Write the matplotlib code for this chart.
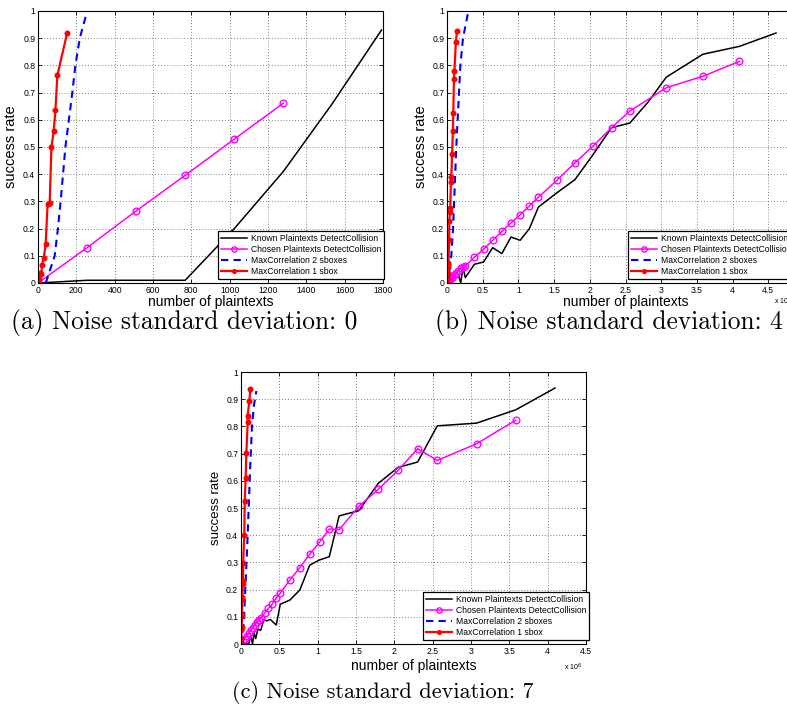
import matplotlib
matplotlib.use("Agg")
import matplotlib.pyplot as plt
import numpy as np

plt.rcParams['font.family'] = ['Liberation Sans', 'DejaVu Sans']

# ---------------- data ----------------
series_names = ["Known Plaintexts DetectCollision", "Chosen Plaintexts DetectCollision",
                "MaxCorrelation 2 sboxes", "MaxCorrelation 1 sbox"]
captions = ["(a) Noise standard deviation: 0", "(b) Noise standard deviation: 4",
            "(c) Noise standard deviation: 7"]

# (a) noise 0, x in plaintexts
a_known_x = [0, 128, 256, 512, 768, 1024, 1280, 1536, 1792]
a_known_y = [0, 0.005, 0.01, 0.01, 0.01, 0.2, 0.41, 0.66, 0.93]
a_chosen_x = [0, 256, 512, 768, 1024, 1280]
a_chosen_y = [0, 0.13, 0.265, 0.396, 0.529, 0.661]
a_mc2_x = [40, 50, 87, 104, 118, 143, 179, 195, 218, 249]
a_mc2_y = [0, 0.02, 0.1, 0.2, 0.3, 0.5, 0.7, 0.8, 0.9, 0.98]
a_mc1_x = [0, 3, 6, 9, 17, 21, 30, 40, 50, 61, 70, 82, 91, 101, 152]
a_mc1_y = [0, 0.005, 0.015, 0.038, 0.032, 0.067, 0.093, 0.143, 0.289, 0.295, 0.499, 0.559, 0.635, 0.763, 0.919]

# (b) noise 4, x in 1e6 plaintexts
b_known_x = [0, 0.032, 0.064, 0.096, 0.128, 0.16, 0.192, 0.224, 0.256, 0.384, 0.512, 0.64, 0.768,
             0.896, 1.024, 1.152, 1.28, 1.536, 1.792, 2.048, 2.304, 2.56, 2.816, 3.072, 3.584, 4.096, 4.608]
b_known_y = [0, 0.0, 0.01, 0.022, 0.04, 0.03, 0, 0.058, 0.02, 0.069, 0.077, 0.13, 0.108,
             0.169, 0.157, 0.199, 0.279, 0.331, 0.38, 0.473, 0.571, 0.588, 0.665, 0.757, 0.841, 0.87, 0.919]
b_chosen_x = [0, 0.016, 0.032, 0.048, 0.064, 0.096, 0.128, 0.16, 0.192, 0.224, 0.256, 0.384, 0.512,
              0.64, 0.768, 0.896, 1.024, 1.152, 1.28, 1.536, 1.792, 2.048, 2.304, 2.56, 3.072, 3.584, 4.096]
b_chosen_y = [0, 0.005, 0.01, 0.015, 0.02, 0.028, 0.035, 0.045, 0.055, 0.06, 0.062, 0.095, 0.124,
              0.157, 0.19, 0.221, 0.251, 0.283, 0.315, 0.377, 0.442, 0.504, 0.571, 0.632, 0.718, 0.76, 0.815]
b_mc2_x = [0.02, 0.06, 0.085, 0.13, 0.187, 0.224, 0.30]
b_mc2_y = [0, 0.1, 0.2, 0.5, 0.8, 0.9, 1.0]
b_mc1_x = [0, 0.005, 0.01, 0.015, 0.02, 0.03, 0.033, 0.04, 0.045, 0.055, 0.06, 0.072, 0.082, 0.088,
           0.097, 0.104, 0.124, 0.14]
b_mc1_y = [0, 0.015, 0.035, 0.06, 0.075, 0.157, 0.227, 0.26, 0.275, 0.37, 0.39, 0.474, 0.559, 0.625,
           0.749, 0.78, 0.886, 0.925]

# (c) noise 7, x in 1e6 plaintexts
c_known_x = [0, 0.064, 0.1, 0.128, 0.15, 0.17, 0.192, 0.22, 0.256, 0.3, 0.33, 0.384, 0.42, 0.46,
             0.512, 0.64, 0.768, 0.896, 1.024, 1.152, 1.28, 1.536, 1.792, 2.048, 2.304, 2.56,
             3.072, 3.584, 4.096]
c_known_y = [0, 0.0, 0.0, 0.03, 0.0, 0.04, 0.02, 0.055, 0.05, 0.09, 0.085, 0.09, 0.08, 0.07,
             0.146, 0.162, 0.199, 0.29, 0.309, 0.321, 0.471, 0.49, 0.591, 0.649, 0.669, 0.802,
             0.812, 0.861, 0.941]
c_chosen_x = [0, 0.026, 0.051, 0.077, 0.102, 0.128, 0.154, 0.179, 0.205, 0.23, 0.256, 0.307, 0.358,
              0.41, 0.461, 0.512, 0.64, 0.768, 0.896, 1.024, 1.152, 1.28, 1.536, 1.792, 2.048,
              2.304, 2.56, 3.072, 3.584]
c_chosen_y = [0, 0.01, 0.02, 0.03, 0.04, 0.05, 0.06, 0.07, 0.08, 0.088, 0.095, 0.113, 0.131,
              0.148, 0.17, 0.187, 0.236, 0.281, 0.33, 0.374, 0.423, 0.42, 0.506, 0.569, 0.638,
              0.718, 0.675, 0.736, 0.823]
c_mc2_x = [0.02, 0.04, 0.056, 0.08, 0.1, 0.12, 0.143, 0.17, 0.2]
c_mc2_y = [0, 0.1, 0.2, 0.35, 0.5, 0.65, 0.8, 0.88, 0.93]
c_mc1_x = [0, 0.003, 0.006, 0.009, 0.013, 0.017, 0.019, 0.024, 0.027, 0.028, 0.043, 0.048, 0.061,
           0.07, 0.088, 0.086, 0.109, 0.122]
c_mc1_y = [0, 0.02, 0.05, 0.064, 0.107, 0.165, 0.174, 0.22, 0.23, 0.297, 0.401, 0.524, 0.612,
           0.704, 0.818, 0.84, 0.892, 0.937]

a_xticks = [0, 200, 400, 600, 800, 1000, 1200, 1400, 1600, 1800]
bc_xticks = [0, 0.5, 1, 1.5, 2, 2.5, 3, 3.5, 4, 4.5, 5]
y_ticks = [0, 0.1, 0.2, 0.3, 0.4, 0.5, 0.6, 0.7, 0.8, 0.9, 1]

# ---------------- figure ----------------
W, H = 787, 711
fig = plt.figure(figsize=(W / 100, H / 100), dpi=100)


def px_axes(left, top, right, bottom):
    return fig.add_axes([left / W, 1 - bottom / H, (right - left) / W, (bottom - top) / H])


def fmt(v):
    return '%g' % v


def style(ax, xlim, xticks, ylab_x, xlab_y, ylab_fs):
    ax.set_xlim(*xlim)
    ax.set_ylim(0, 1)
    ax.set_xticks(xticks)
    ax.set_xticklabels([fmt(t) for t in xticks])
    ax.set_yticks(y_ticks)
    ax.set_yticklabels([fmt(t) for t in y_ticks])
    ax.grid(True, linestyle=(0, (1, 2.5)), color='#555555', linewidth=0.6)
    ax.tick_params(direction='in', length=3, width=0.6, labelsize=6.2, pad=2,
                   top=True, right=True)
    for s in ax.spines.values():
        s.set_linewidth(0.8)
        s.set_color('black')
    ax.set_ylabel('success rate', fontsize=ylab_fs)
    ax.set_xlabel('number of plaintexts', fontsize=10)
    ax.yaxis.set_label_coords(ylab_x, 0.5)
    ax.xaxis.set_label_coords(0.5, xlab_y)


def draw(ax, kx, ky, cx, cy, m2x, m2y, m1x, m1y, leg_xy):
    ax.plot(kx, ky, color='black', lw=1.1, label=series_names[0])
    ax.plot(cx, cy, color='#ff00ff', lw=1.1, marker='o', ms=4.8, mfc='none', mew=1.0,
            label=series_names[1])
    ax.plot(m2x, m2y, color='#0000ff', lw=1.5, linestyle=(0, (3.5, 2.5)), label=series_names[2])
    ax.plot(m1x, m1y, color='#ff0000', lw=1.6, marker='o', ms=3.3, label=series_names[3])
    leg = ax.legend(loc='lower left', bbox_to_anchor=leg_xy, borderaxespad=0, fontsize=6.2,
                    frameon=True, fancybox=False, edgecolor='black', framealpha=1,
                    handlelength=3.1, handletextpad=0.4, labelspacing=0.25, borderpad=0.3,
                    markerscale=0.8)
    leg.get_frame().set_linewidth(0.9)


ax_a = px_axes(38, 11, 383, 283)
draw(ax_a, a_known_x, a_known_y, a_chosen_x, a_chosen_y, a_mc2_x, a_mc2_y, a_mc1_x, a_mc1_y,
     (0.522, 0.015))
style(ax_a, (0, 1800), a_xticks, -0.058, -0.045, 10.5)

ax_b = px_axes(447, 11, 804, 283)
draw(ax_b, b_known_x, b_known_y, b_chosen_x, b_chosen_y, b_mc2_x, b_mc2_y, b_mc1_x, b_mc1_y,
     (0.507, 0.015))
style(ax_b, (0, 5), bc_xticks, -0.053, -0.045, 10.5)
ax_b.text(0.915, -0.045, r'x 10$^6$', transform=ax_b.transAxes, fontsize=5, va='top', ha='left')

ax_c = px_axes(241, 372, 586, 644)
draw(ax_c, c_known_x, c_known_y, c_chosen_x, c_chosen_y, c_mc2_x, c_mc2_y, c_mc1_x, c_mc1_y,
     (0.528, 0.015))
style(ax_c, (0, 4.5), bc_xticks[:-1], -0.055, -0.055, 9.5)
ax_c.text(0.935, -0.065, r'x 10$^6$', transform=ax_c.transAxes, fontsize=5, va='top', ha='left')

# captions
fig.text(184 / W, 1 - 322 / H, captions[0], family='cmr10', fontsize=18.3, ha='center', va='center')
fig.text(609 / W, 1 - 322 / H, captions[1], family='cmr10', fontsize=18.3, ha='center', va='center')
fig.text(383 / W, 1 - 693 / H, captions[2], family='cmr10', fontsize=16, ha='center', va='center')

fig.savefig('out.png', dpi=100)
